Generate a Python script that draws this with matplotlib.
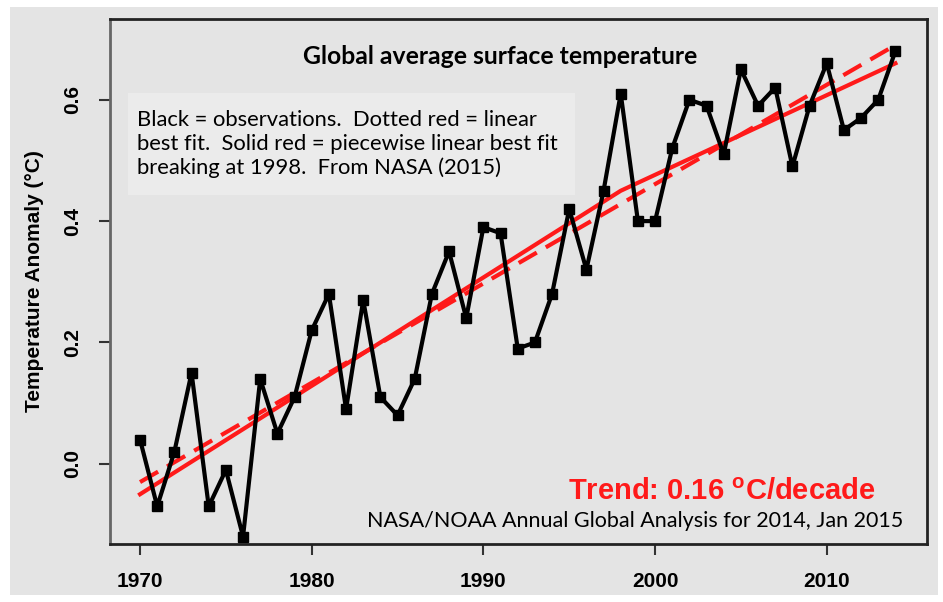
import matplotlib
matplotlib.use("Agg")
from matplotlib import pyplot as plt
from matplotlib.patches import Rectangle

years = list(range(1970, 2015))
anomaly = [0.04, -0.07, 0.02, 0.15, -0.07, -0.01, -0.12, 0.14, 0.05, 0.11,
           0.22, 0.28, 0.09, 0.27, 0.11, 0.08, 0.14, 0.28, 0.35, 0.24,
           0.39, 0.38, 0.19, 0.20, 0.28, 0.42, 0.32, 0.45, 0.61, 0.40,
           0.40, 0.52, 0.60, 0.59, 0.51, 0.65, 0.59, 0.62, 0.49, 0.59,
           0.66, 0.55, 0.57, 0.60, 0.68]

# linear best fit (dotted red)
lin_years = [1970, 2014]
lin_vals = [-0.03, 0.69]
# piecewise linear fit breaking at 1998 (solid red)
pw_years = [1970, 1998, 2014]
pw_vals = [-0.05, 0.45, 0.66]

xticks = [1970, 1980, 1990, 2000, 2010]
yticks = [0.0, 0.2, 0.4, 0.6]

sans = ["Liberation Sans", "DejaVu Sans"]
bg = "#e4e4e4"
fig = plt.figure(figsize=(9.43, 6.02), dpi=100)
fig.patch.set_facecolor("white")
fig.patches.append(Rectangle((10/943, 7/602), 928/943, 588/602, transform=fig.transFigure,
                             facecolor=bg, edgecolor="none", zorder=-10))

ax = fig.add_axes([110/943, 1 - 544/602, 817/943, 525/602])
ax.set_facecolor(bg)

ax.plot(lin_years, lin_vals, color="#ff1a1a", lw=3, ls=(0, (5, 2.5)), zorder=2)
ax.plot(pw_years, pw_vals, color="#ff1a1a", lw=3, zorder=2)
ax.plot(years, anomaly, color="black", lw=3, marker="s", markersize=7, zorder=3)

ax.set_xlim(1968.25, 2015.84)
ax.set_ylim(-0.132, 0.733)
ax.set_xticks(xticks)
ax.set_yticks(yticks)
ax.set_xticklabels([str(x) for x in xticks], fontsize=15, fontweight="bold", family=sans)
ax.set_yticklabels(["%.1f" % y for y in yticks], fontsize=15, fontweight="bold",
                   rotation=90, va="center", family=sans)
ax.tick_params(axis="both", direction="out", length=8, width=1.5, color="#333333")
ax.tick_params(axis="x", pad=12)
ax.tick_params(axis="y", pad=12)
for s in ax.spines.values():
    s.set_linewidth(2)
    s.set_color("#222222")
ax.spines["left"].set_color("#666666")

ax.set_ylabel("Temperature Anomaly (\u00b0C)", fontsize=15, fontweight="bold",
              family=sans, labelpad=14)

fig.text(500/943, 1 - 57/602, "Global average surface temperature", ha="center", va="center",
         fontsize=17.8, fontweight="bold", family="Lato")

fig.patches.append(Rectangle((128/943, 1 - 195/602), 447/943, 102/602, transform=fig.transFigure,
                             facecolor="#ebebeb", edgecolor="none", zorder=5))
fig.text(137/943, 1 - 144/602,
         "Black = observations.  Dotted red = linear\nbest fit.  Solid red = piecewise linear best fit\nbreaking at 1998.  From NASA (2015)",
         ha="left", va="center", fontsize=15.8, family="Lato", linespacing=1.2, zorder=6)

fig.text(875/943, 1 - 492/602, "Trend: 0.16 $^{\\mathregular{o}}$C/decade", ha="right", va="center",
         fontsize=21, fontweight="bold", color="#ff1a1a", family="Liberation Sans")
fig.text(903/943, 1 - 521/602, "NASA/NOAA Annual Global Analysis for 2014, Jan 2015",
         ha="right", va="center", fontsize=15.5, family="Lato")

plt.savefig("out.png", dpi=100, facecolor=fig.get_facecolor())
